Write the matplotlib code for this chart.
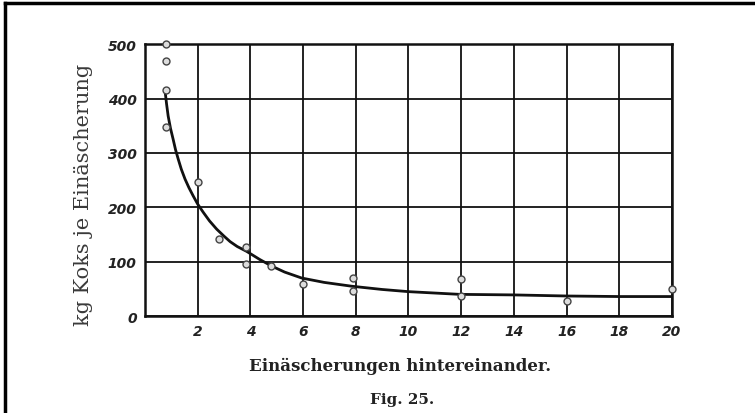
import matplotlib
matplotlib.use("Agg")
import matplotlib.pyplot as plt
from matplotlib.lines import Line2D

# measured points (number of cremations in a row, kg coke per cremation)
pts_x = [0.8, 0.8, 0.8, 0.8, 2, 2.8, 3.85, 3.85, 4.8, 6, 7.9, 7.9, 12, 12, 16, 20]
pts_y = [500, 469, 415, 347, 246, 141, 127, 96, 92, 59, 70, 46, 68, 37, 28, 50]

# mean curve
curve_x = [0.76, 0.82, 0.88, 0.97, 1.07, 1.16, 1.26, 1.38, 1.52, 1.67, 1.83, 2.0, 2.21,
           2.45, 2.72, 3.0, 3.23, 3.5, 3.86, 4.36, 4.81, 5.3, 5.95, 6.8, 7.84, 9.0,
           10.0, 11.95, 13.98, 16.0, 18.0, 20.0]
curve_y = [415, 390, 368, 345, 325, 306, 289, 270, 252, 236, 221, 206, 191,
           175, 160, 147, 137, 128, 119, 104, 92, 81, 70, 62, 55, 49,
           45, 40, 39, 37, 36, 36]

xticks = [2, 4, 6, 8, 10, 12, 14, 16, 18, 20]
yticks = [0, 100, 200, 300, 400, 500]

fig = plt.figure(figsize=(7.55, 4.14), dpi=100)
ax = fig.add_axes([0.192, 0.234, 0.698, 0.657])

ax.set_xlim(0, 20)
ax.set_ylim(0, 500)
ax.set_xticks([0] + xticks)
ax.set_yticks(yticks)
ax.grid(True, color="#111111", linewidth=1.3)
for s in ax.spines.values():
    s.set_color("#111111")
    s.set_linewidth(1.8)

ax.plot(curve_x, curve_y, color="#111111", linewidth=2.0, zorder=3)
ax.plot(pts_x, pts_y, "o", ms=5, mfc="#dddddd", mec="#444444", mew=1.0, zorder=4, clip_on=False)

ax.tick_params(length=0, pad=6)
ax.set_xticklabels([""] + [str(v) for v in xticks])
ax.set_yticklabels([str(v) for v in yticks])
for lab in ax.get_xticklabels() + ax.get_yticklabels():
    lab.set_fontstyle("italic")
    lab.set_fontweight("bold")
    lab.set_fontsize(10)
    lab.set_color("#222222")

fig.text(0.11, 0.53, "kg Koks je Einäscherung", rotation=90, ha="center", va="center",
         family="DejaVu Serif", fontsize=15, color="#3a3a3a")
fig.text(0.53, 0.115, "Einäscherungen hintereinander.", ha="center", va="center",
         family="DejaVu Serif", fontweight="bold", fontsize=12, color="#222222")
fig.text(0.532, 0.035, "Fig. 25.", ha="center", va="center",
         family="DejaVu Serif", fontweight="bold", fontsize=11, color="#222222")

# scan frame (top and left edges)
fig.add_artist(Line2D([0.006, 1.0], [0.99, 0.99], color="black", linewidth=2.5))
fig.add_artist(Line2D([0.007, 0.007], [0.0, 0.99], color="black", linewidth=2.5))

fig.savefig("out.png", dpi=100)
